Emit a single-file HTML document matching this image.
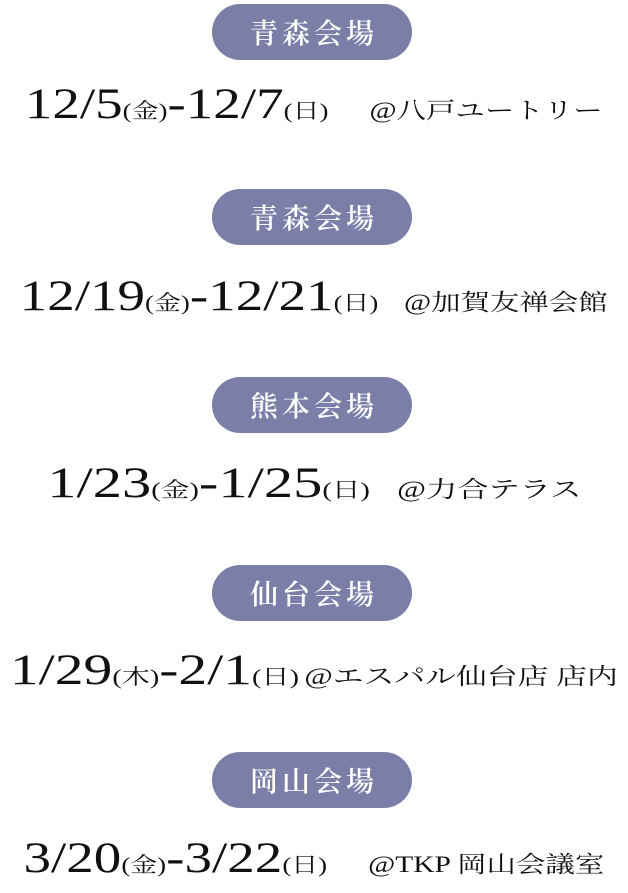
<!DOCTYPE html>
<html><head><meta charset="utf-8"><style>
body{margin:0;width:628px;height:886px;background:#fff;position:relative;overflow:hidden;font-family:"Liberation Serif","Noto Serif CJK SC",serif;color:#111}
.pill{position:absolute;left:212px;width:200px;height:56px;border-radius:28px;background:#7b7fa8;color:#fff;font-size:28px;text-align:center;line-height:56px;letter-spacing:4px;text-indent:4px;font-family:"Noto Serif CJK SC",serif;font-weight:600}
.d{position:absolute;left:0;width:628px;text-align:center;white-space:nowrap;height:50px;line-height:50px}
.w{display:inline-block;transform:scaleX(1.28);transform-origin:center}
.n{font-size:43px}
.p{font-size:21px}
.v{font-size:23px}
</style></head><body>
<div class="pill" style="top:4px">青森会場</div>
<div class="d" style="top:80px"><span class="w"><span class="n">12/5</span><span class="p">(金)</span><span class="n">-12/7</span><span class="p">(日)</span>　　<span class="v">@八戸ユートリー</span></span></div>
<div class="pill" style="top:189px">青森会場</div>
<div class="d" style="top:272px"><span class="w"><span class="n">12/19</span><span class="p">(金)</span><span class="n">-12/21</span><span class="p">(日)</span>　 <span class="v">@加賀友禅会館</span></span></div>
<div class="pill" style="top:377px">熊本会場</div>
<div class="d" style="top:459px"><span class="w" style="transform:scaleX(1.36)"><span class="n">1/23</span><span class="p">(金)</span><span class="n">-1/25</span><span class="p">(日)</span>　 <span class="v">@力合テラス</span></span></div>
<div class="pill" style="top:565px">仙台会場</div>
<div class="d" style="top:646px"><span class="w" style="transform:scaleX(1.34)"><span class="n">1/29</span><span class="p">(木)</span><span class="n">-2/1</span><span class="p">(日)</span> <span class="v">@エスパル仙台店 店内</span></span></div>
<div class="pill" style="top:752px">岡山会場</div>
<div class="d" style="top:834px"><span class="w"><span class="n">3/20</span><span class="p">(金)</span><span class="n">-3/22</span><span class="p">(日)</span>　　<span class="v">@TKP 岡山会議室</span></span></div>
</body></html>
